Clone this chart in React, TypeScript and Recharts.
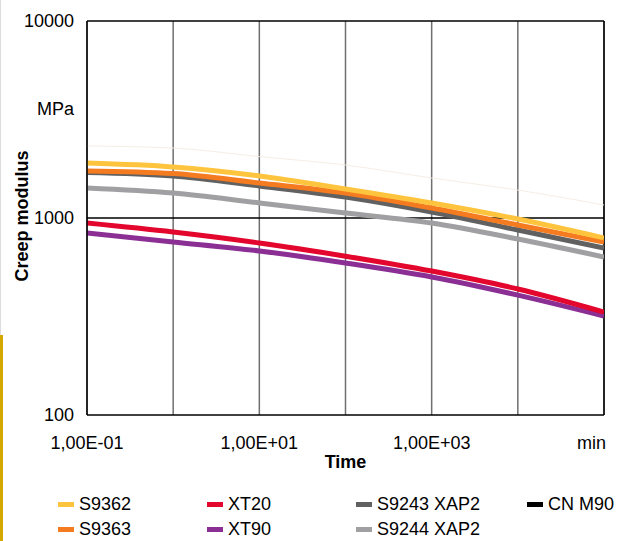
import { CartesianGrid, Label, Line, LineChart, ReferenceLine, XAxis, YAxis } from 'recharts';

// time in minutes
const times = [0.1, 1, 10, 100, 1000, 10000, 100000];

// creep modulus, MPa
const s9362 = [1900, 1815, 1634, 1404, 1192, 988, 792];
const s9363 = [1732, 1680, 1505, 1339, 1124, 922, 755];
const s9243 = [1702, 1634, 1454, 1278, 1073, 869, 704];
const s9244 = [1420, 1339, 1192, 1060, 943, 782, 634];
const xt20 = [943, 849, 747, 640, 538, 436, 333];
const xt90 = [839, 756, 680, 591, 502, 406, 318];
const cnm90 = [2320, 2265, 2050, 1858, 1596, 1387, 1164];

const xTicks = [0.1, 1, 10, 100, 1000, 10000, 100000];
const xTickLabels: Record<number, string> = {
  0.1: '1,00E-01',
  10: '1,00E+01',
  1000: '1,00E+03',
  100000: 'min',
};
const yTicks = [100, 1000, 3570, 10000];
const yTickLabels: Record<number, string> = {
  100: '100',
  1000: '1000',
  3570: 'MPa',
  10000: '10000',
};

// drawing order (back to front)
const series = [
  { name: 'CN M90', values: cnm90, color: '#f5eee4', legend: '#000000', width: 1 },
  { name: 'S9244 XAP2', values: s9244, color: '#a0a0a2', legend: '#a0a0a2', width: 5 },
  { name: 'S9243 XAP2', values: s9243, color: '#616161', legend: '#616161', width: 5 },
  { name: 'XT90', values: xt90, color: '#8b2f95', legend: '#8b2f95', width: 5 },
  { name: 'XT20', values: xt20, color: '#e3062d', legend: '#e3062d', width: 5 },
  { name: 'S9363', values: s9363, color: '#f47b20', legend: '#f47b20', width: 5 },
  { name: 'S9362', values: s9362, color: '#ffc43d', legend: '#ffc43d', width: 5 },
];

const legendOrder = [
  ['S9362', 'S9363'],
  ['XT20', 'XT90'],
  ['S9243 XAP2', 'S9244 XAP2'],
  ['CN M90'],
];

const data = times.map((t, i) => {
  const row: Record<string, number> = { t };
  series.forEach((s) => {
    row[s.name] = s.values[i];
  });
  return row;
});

const font = '"Liberation Sans", Arial, sans-serif';

const XTick = (props: any) => {
  const { x, y, payload } = props;
  const label = xTickLabels[payload.value];
  if (!label) return null;
  const last = payload.value === 100000;
  return (
    <text
      x={last ? x + 2 : x}
      y={y + 32}
      textAnchor={last ? 'end' : 'middle'}
      fill="#000"
      fontSize={18}
      fontFamily={font}
    >
      {label}
    </text>
  );
};

const YTick = (props: any) => {
  const { x, y, payload } = props;
  return (
    <text x={x - 11} y={y + 6} textAnchor="end" fill="#000" fontSize={18} fontFamily={font}>
      {yTickLabels[payload.value]}
    </text>
  );
};

const YLabel = () => (
  <text
    transform="rotate(-90)"
    x={-216}
    y={28}
    textAnchor="middle"
    fontSize={18}
    fontWeight="bold"
    fontFamily={font}
    fill="#000"
  >
    Creep modulus
  </text>
);

const legendX = [58, 207, 356, 527];
const legendY = [494, 519];

export default function App() {
  return (
    <div style={{ position: 'absolute', left: 0, top: 0, width: 619, height: 541, background: '#fff', fontFamily: font }}>
      <div style={{ position: 'absolute', left: 0, top: 0, width: 1, height: 335, background: '#dcdcdc' }} />
      <div style={{ position: 'absolute', left: 0, top: 335, width: 3, height: 206, background: '#d4a800' }} />
      <LineChart width={619} height={541} data={data} margin={{ top: 21, right: 15, left: 0, bottom: 0 }}>
        <CartesianGrid horizontal={false} stroke="#6f6f6f" strokeWidth={1.5} />
        <XAxis
          dataKey="t"
          type="number"
          scale="log"
          domain={[0.1, 100000]}
          ticks={xTicks}
          allowDataOverflow
          height={126}
          tickLine={false}
          tickSize={0}
          axisLine={{ stroke: '#000', strokeWidth: 1.5 }}
          tick={<XTick />}
          interval={0}
        >
          <Label
            value="Time"
            position="insideTop"
            offset={40}
            fontSize={18}
            fontWeight="bold"
            fontFamily={font}
            fill="#000"
          />
        </XAxis>
        <YAxis
          type="number"
          scale="log"
          domain={[100, 10000]}
          ticks={yTicks}
          allowDataOverflow
          width={87}
          tickLine={false}
          tickSize={0}
          axisLine={{ stroke: '#000', strokeWidth: 1.5 }}
          tick={<YTick />}
          interval={0}
          label={<YLabel />}
        />
        <ReferenceLine y={1000} stroke="#000" strokeWidth={1.5} />
        <ReferenceLine y={10000} stroke="#000" strokeWidth={1.5} />
        <ReferenceLine x={100000} stroke="#000" strokeWidth={1.5} />
        {series.map((s) => (
          <Line
            key={s.name}
            dataKey={s.name}
            type="monotone"
            stroke={s.color}
            strokeWidth={s.width}
            dot={false}
            isAnimationActive={false}
          />
        ))}
      </LineChart>
      {legendOrder.map((col, ci) =>
        col.map((name, ri) => {
          const s = series.find((d) => d.name === name)!;
          return (
            <div
              key={name}
              style={{
                position: 'absolute',
                left: legendX[ci],
                top: legendY[ri],
                height: 20,
                display: 'flex',
                alignItems: 'center',
                fontSize: 18,
                color: '#000',
                whiteSpace: 'nowrap',
              }}
            >
              <span style={{ display: 'inline-block', width: 16, height: 5, background: s.legend, marginRight: 5 }} />
              {name}
            </div>
          );
        }),
      )}
    </div>
  );
}
